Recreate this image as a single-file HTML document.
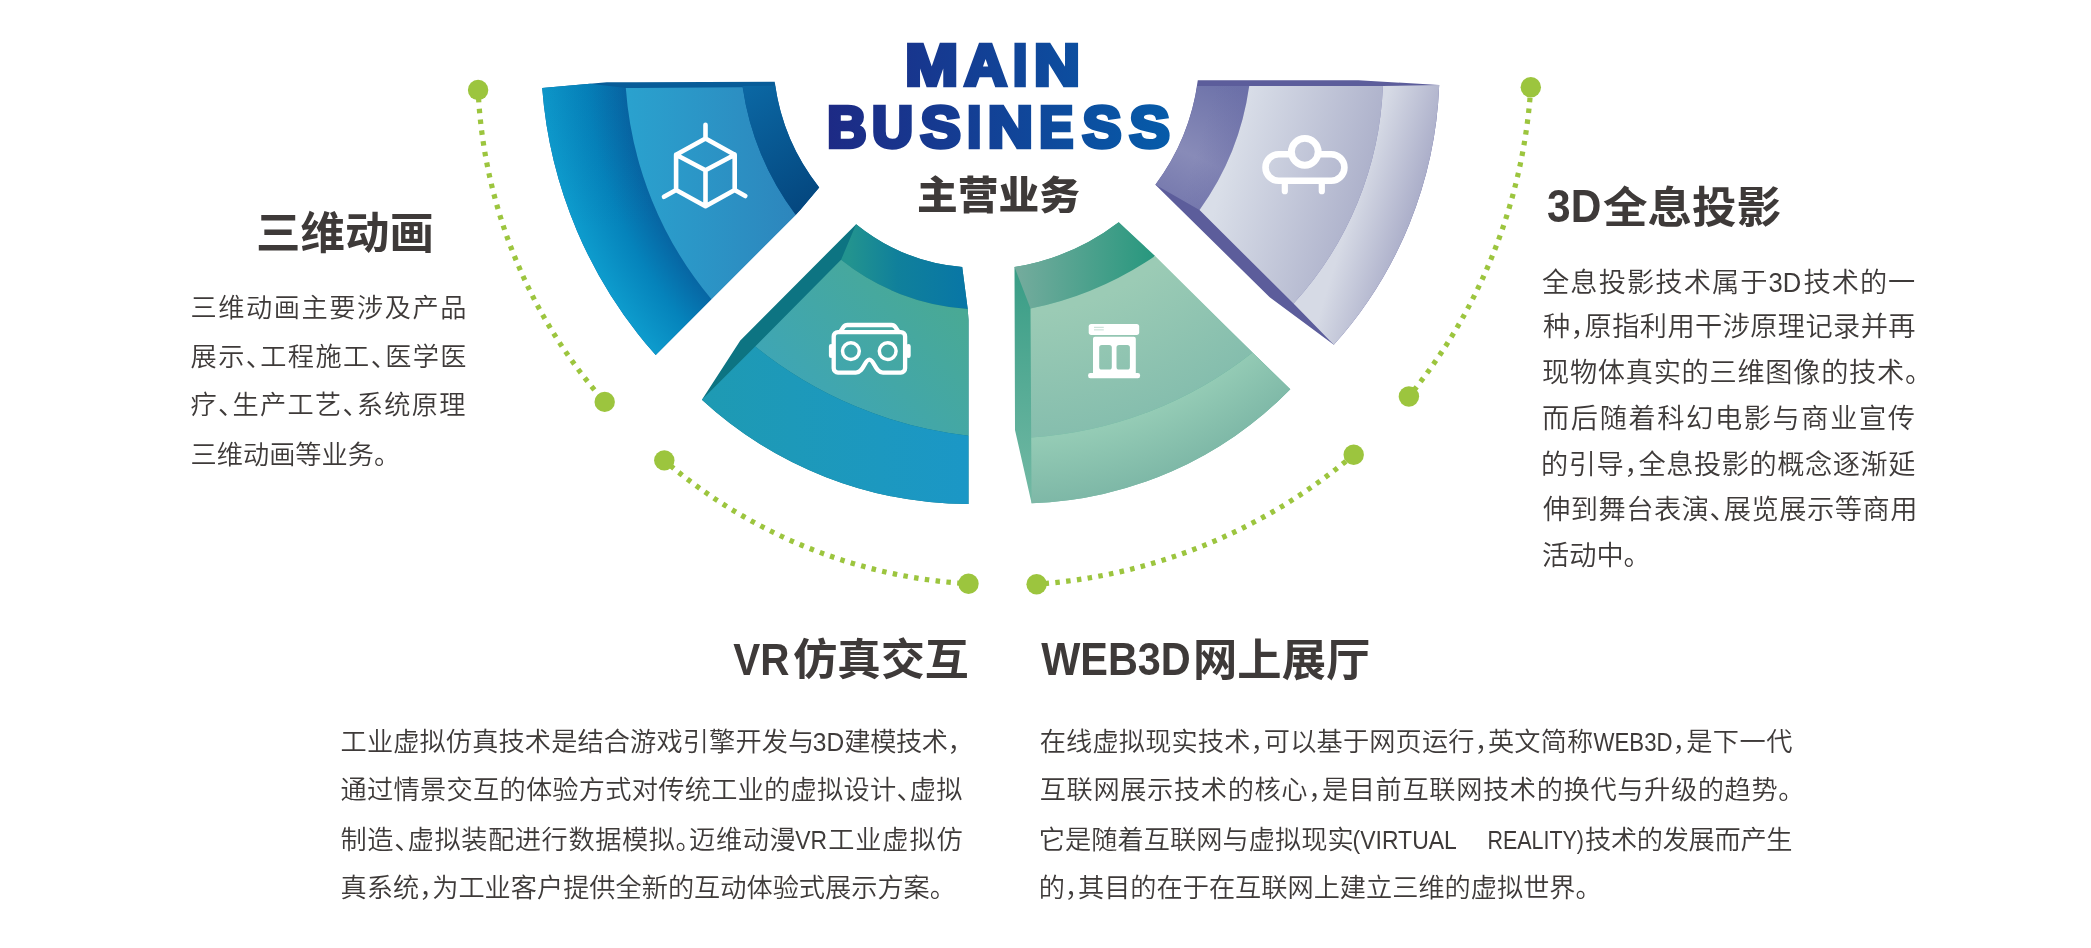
<!DOCTYPE html>
<html lang="zh-CN"><head><meta charset="utf-8"><title>主营业务 MAIN BUSINESS</title>
<style>
html,body{margin:0;padding:0;background:#fff;}
body{width:2091px;height:948px;overflow:hidden;font-family:"Liberation Sans","Noto Sans CJK SC",sans-serif;}
svg{display:block;will-change:transform;}
svg text{font-family:"Liberation Sans","Noto Sans CJK SC",sans-serif;font-feature-settings:"halt" 1;white-space:pre;}
</style></head><body>
<svg width="2091" height="948" viewBox="0 0 2091 948">
<defs>
<linearGradient id="gT" gradientUnits="userSpaceOnUse" x1="829" y1="0" x2="1169" y2="0"><stop offset="0" stop-color="#1d2a85"/><stop offset="1" stop-color="#065ba9"/></linearGradient>
<radialGradient id="g1L" gradientUnits="userSpaceOnUse" cx="994" cy="56" r="454"><stop offset="0.815" stop-color="#0764a2"/><stop offset="0.9" stop-color="#0583bb"/><stop offset="1" stop-color="#0e9dce"/></radialGradient>
<linearGradient id="g1Lo" gradientUnits="userSpaceOnUse" x1="0" y1="84" x2="0" y2="230"><stop offset="0" stop-color="#0a5d9b" stop-opacity="0.1"/><stop offset="1" stop-color="#0a5d9b" stop-opacity="0"/></linearGradient>
<linearGradient id="g1P" gradientUnits="userSpaceOnUse" x1="630" y1="150" x2="800" y2="150"><stop offset="0" stop-color="#2aa1ce"/><stop offset="1" stop-color="#2d85bc"/></linearGradient>
<linearGradient id="g1R" gradientUnits="userSpaceOnUse" x1="745" y1="90" x2="815" y2="200"><stop offset="0" stop-color="#0b67a3"/><stop offset="1" stop-color="#04477f"/></linearGradient>
<linearGradient id="g2I" gradientUnits="userSpaceOnUse" x1="850" y1="0" x2="968" y2="0"><stop offset="0" stop-color="#22938f"/><stop offset="0.4" stop-color="#10809b"/><stop offset="1" stop-color="#0876a6"/></linearGradient>
<linearGradient id="g2P" gradientUnits="userSpaceOnUse" x1="950" y1="300" x2="810" y2="440"><stop offset="0" stop-color="#49a995"/><stop offset="1" stop-color="#3da5b9"/></linearGradient>
<linearGradient id="g2O" gradientUnits="userSpaceOnUse" x1="705" y1="0" x2="968" y2="0"><stop offset="0" stop-color="#1e9ab3"/><stop offset="1" stop-color="#1b97c6"/></linearGradient>
<linearGradient id="g3S" gradientUnits="userSpaceOnUse" x1="0" y1="270" x2="0" y2="500"><stop offset="0" stop-color="#399d86"/><stop offset="1" stop-color="#72b9a4"/></linearGradient>
<linearGradient id="g3I" gradientUnits="userSpaceOnUse" x1="1020" y1="0" x2="1150" y2="0"><stop offset="0" stop-color="#72ab9c"/><stop offset="1" stop-color="#2a987f"/></linearGradient>
<radialGradient id="g3P" gradientUnits="userSpaceOnUse" cx="1013" cy="83" r="420"><stop offset="0.55" stop-color="#9bcbb5"/><stop offset="0.87" stop-color="#84bdad"/></radialGradient>
<radialGradient id="g3O" gradientUnits="userSpaceOnUse" cx="1013" cy="83" r="420"><stop offset="0.85" stop-color="#94cbb5"/><stop offset="1" stop-color="#7eb8a7"/></radialGradient>
<linearGradient id="g4I" gradientUnits="userSpaceOnUse" x1="1228" y1="84" x2="1172" y2="205"><stop offset="0" stop-color="#6d72a9"/><stop offset="0.6" stop-color="#888bb8"/><stop offset="1" stop-color="#7578ad"/></linearGradient>
<linearGradient id="g4Io" gradientUnits="userSpaceOnUse" x1="1200" y1="140" x2="1240" y2="152"><stop offset="0" stop-color="#6a6ca6" stop-opacity="0"/><stop offset="1" stop-color="#6a6ca6" stop-opacity="0.4"/></linearGradient>
<linearGradient id="g4P" gradientUnits="userSpaceOnUse" x1="1230" y1="150" x2="1380" y2="190"><stop offset="0" stop-color="#d9dee8"/><stop offset="1" stop-color="#a9adc8"/></linearGradient>
<linearGradient id="g4O" gradientUnits="userSpaceOnUse" x1="1370" y1="150" x2="1435" y2="170"><stop offset="0" stop-color="#d6dae5"/><stop offset="1" stop-color="#a6a9c6"/></linearGradient>
</defs>
<g id="wedges">
<path d="M542.2 88.1 L606.8 82.2 L774.7 81.8 A214.7 214.7 0 0 0 819.2 187.4 L800.2 210 L655.7 355.1 A453.6 453.6 0 0 1 542.2 88.1Z" fill="#085c98"/>
<path d="M542.2 88.1 L590 83.7 L625.8 88.1 A369.7 369.7 0 0 0 711.4 299.2 L655.7 355.1 A453.6 453.6 0 0 1 542.2 88.1Z" fill="url(#g1L)"/>
<path d="M542.2 88.1 L590 83.7 L625.8 88.1 A369.7 369.7 0 0 0 711.4 299.2 L655.7 355.1 A453.6 453.6 0 0 1 542.2 88.1Z" fill="url(#g1Lo)"/>
<path d="M625.8 88.1 L742.6 87.3 A281.9 281.9 0 0 0 795.8 215 L711.4 299.2 A369.7 369.7 0 0 1 625.8 88.1Z" fill="url(#g1P)"/>
<path d="M742.6 86 L775.2 85.7 A214.7 214.7 0 0 0 819.2 187.4 L800.2 210 L795.8 215 A281.9 281.9 0 0 1 742.6 86Z" fill="url(#g1R)"/>
<path d="M856.1 224.2 A195.8 195.8 0 0 0 962.2 267.1 L967.7 308.9 L968.5 320 L968.5 504 A394.5 394.5 0 0 1 701.9 399.8 L740.3 340.4 Z" fill="#0d7482"/>
<path d="M856.1 224.2 A195.8 195.8 0 0 0 962.2 267.1 L967.7 308.9 A224.6 224.6 0 0 1 841.1 259.8Z" fill="url(#g2I)"/>
<path d="M841.1 259.8 A224.6 224.6 0 0 0 967.7 308.9 L968.5 320 L968.5 435.7 A413 413 0 0 1 755.2 346.5Z" fill="url(#g2P)"/>
<path d="M968.5 435.7 L968.5 504 A394.5 394.5 0 0 1 701.9 399.8 L755.2 346.5 A413 413 0 0 0 968.5 435.7Z" fill="url(#g2O)"/>
<path d="M1014.5 267.1 A232.9 232.9 0 0 0 1118.7 222.3 L1290.3 389.3 A379.3 379.3 0 0 1 1031.6 503.2 L1015 430 Z" fill="url(#g3S)"/>
<path d="M1014.5 267.1 A232.9 232.9 0 0 0 1118.7 222.3 L1155.1 255.9 A340.8 340.8 0 0 1 1030.5 308.5Z" fill="url(#g3I)"/>
<path d="M1030.5 308.5 A340.8 340.8 0 0 0 1155.1 255.9 L1252.5 352.5 A395.5 395.5 0 0 1 1031.2 437.5Z" fill="url(#g3P)"/>
<path d="M1031.2 437.5 A395.5 395.5 0 0 0 1252.5 352.5 L1290.3 389.3 A379.3 379.3 0 0 1 1031.6 503.2Z" fill="url(#g3O)"/>
<path d="M1197.8 80.3 L1358.4 80.3 L1439.2 85 A411.8 411.8 0 0 1 1333.8 344.8 L1269.7 297.3 L1155.4 184.7 A222.8 222.8 0 0 0 1197.8 80.3Z" fill="#5c5d9b"/>
<path d="M1197.2 86.1 L1249.2 86.1 A276.7 276.7 0 0 1 1199.5 210 L1155.4 184.7 A222.8 222.8 0 0 0 1197.2 86.1Z" fill="url(#g4I)"/>
<path d="M1197.2 86.1 L1249.2 86.1 A276.7 276.7 0 0 1 1199.5 210 L1155.4 184.7 A222.8 222.8 0 0 0 1197.2 86.1Z" fill="url(#g4Io)"/>
<path d="M1249.2 86.1 L1382.9 86.1 A341.3 341.3 0 0 1 1293.5 303.6 L1199.5 210 A276.7 276.7 0 0 0 1249.2 86.1Z" fill="url(#g4P)"/>
<path d="M1382.9 86.1 L1439.2 85 A411.8 411.8 0 0 1 1333.8 344.8 L1293.5 303.6 A341.3 341.3 0 0 0 1382.9 86.1Z" fill="url(#g4O)"/>
<path d="M478.1 90 A505.6 505.6 0 0 0 604.7 401.9" fill="none" stroke="#9cc53e" stroke-width="5.2" stroke-dasharray="4.5 6.35" stroke-dashoffset="-8"/>
<circle cx="478.1" cy="90" r="10.2" fill="#9cc53e"/>
<circle cx="604.7" cy="401.9" r="10.2" fill="#9cc53e"/>
<path d="M664.3 460.4 A513.0 513.0 0 0 0 968.5 583.8" fill="none" stroke="#9cc53e" stroke-width="5.2" stroke-dasharray="4.5 6.35" stroke-dashoffset="-8"/>
<circle cx="664.3" cy="460.4" r="10.2" fill="#9cc53e"/>
<circle cx="968.5" cy="583.8" r="10.2" fill="#9cc53e"/>
<path d="M1036.6 584.2 A549.2 549.2 0 0 0 1353.7 454.7" fill="none" stroke="#9cc53e" stroke-width="5.2" stroke-dasharray="4.5 6.35" stroke-dashoffset="-8"/>
<circle cx="1036.6" cy="584.2" r="10.2" fill="#9cc53e"/>
<circle cx="1353.7" cy="454.7" r="10.2" fill="#9cc53e"/>
<path d="M1408.9 396.5 A542.7 542.7 0 0 0 1530.8 87.3" fill="none" stroke="#9cc53e" stroke-width="5.2" stroke-dasharray="4.5 6.35" stroke-dashoffset="-8"/>
<circle cx="1408.9" cy="396.5" r="10.2" fill="#9cc53e"/>
<circle cx="1530.8" cy="87.3" r="10.2" fill="#9cc53e"/>
</g>
<g id="icons">
<g fill="none" stroke="#fff" stroke-width="4.6" stroke-linecap="round" stroke-linejoin="round"><path d="M705.5 124.8V138.4 M705.5 138.4L734.7 154.7V190.1L705.5 206.3L676.1 190.1V154.7Z M676.1 154.7L705.5 170.3L734.7 154.7 M705.5 170.3V206.3 M676.1 190.1L664 196.8 M734.7 190.1L745.3 196"/></g>
<g fill="none" stroke="#fff" stroke-linecap="round" stroke-linejoin="round"><path stroke-width="4.3" d="M838 332.1H900.8a4.3 4.3 0 0 1 4.3 4.3V368.3a4.3 4.3 0 0 1 -4.3 4.3H883C875 372.6 874.4 359.6 869.4 359.6C864.4 359.6 863.8 372.6 855.8 372.6H838a4.3 4.3 0 0 1 -4.3 -4.3V336.4a4.3 4.3 0 0 1 4.3 -4.3Z"/><path stroke-width="4.3" d="M840.5 331.5L843.5 327Q844.8 325 847.5 325H891.5Q894 325 895.3 327L898.3 331.5"/><circle cx="850.9" cy="351.1" r="8.4" stroke-width="3.5"/><circle cx="887.7" cy="351.1" r="8.4" stroke-width="3.5"/><path stroke-width="4.6" d="M831.2 346.2V355.8 M908.4 346.2V355.8"/></g>
<g fill="#fff"><rect x="1088.7" y="323.9" width="50.5" height="11" rx="2.6"/><path fill-rule="evenodd" d="M1095 336.8H1133.8a2 2 0 0 1 2 2V373H1093V338.8a2 2 0 0 1 2 -2Z M1101.8 345h7.4a2.6 2.6 0 0 1 2.6 2.6v19.3a2.6 2.6 0 0 1 -2.6 2.6h-7.4a2.6 2.6 0 0 1 -2.6 -2.6v-19.3a2.6 2.6 0 0 1 2.6 -2.6Z M1119.1 345h8.2a2.6 2.6 0 0 1 2.6 2.6v19.3a2.6 2.6 0 0 1 -2.6 2.6h-8.2a2.6 2.6 0 0 1 -2.6 -2.6v-19.3a2.6 2.6 0 0 1 2.6 -2.6Z"/><rect x="1088.1" y="373" width="52" height="5.3" rx="2.2"/><rect x="1094" y="326.8" width="9.8" height="1.1" fill="#c9e2d8"/><rect x="1094" y="329.3" width="9.8" height="1.1" fill="#c9e2d8"/></g>
<mask id="mP" maskUnits="userSpaceOnUse" x="1250" y="120" width="120" height="90"><rect x="1250" y="120" width="120" height="90" fill="#fff"/><circle cx="1304.8" cy="151.8" r="13.4" fill="#000"/></mask><g fill="none" stroke="#fff" stroke-linecap="round"><rect x="1265.5" y="154.2" width="78.9" height="26.5" rx="13.25" stroke-width="6.6" mask="url(#mP)"/><circle cx="1304.8" cy="151.8" r="13.4" stroke-width="6.9"/><path stroke-width="6.2" d="M1284.8 184V191.2 M1321.8 184V191.2"/></g>
</g>
<g id="labels">
<g fill="url(#gT)" stroke="url(#gT)" stroke-width="4.4" stroke-linejoin="miter" stroke-miterlimit="2" font-weight="700" font-size="57.2"><text><tspan x="905.2" y="84.5" textLength="52.8" lengthAdjust="spacingAndGlyphs">M</tspan><tspan x="964.6" y="84.5" textLength="42.2" lengthAdjust="spacingAndGlyphs">A</tspan><tspan x="1012.9" y="84.5" textLength="14.3" lengthAdjust="spacingAndGlyphs">I</tspan><tspan x="1033.9" y="84.5" textLength="45.9" lengthAdjust="spacingAndGlyphs">N</tspan></text><text><tspan x="827.3" y="147.4" textLength="39.2" lengthAdjust="spacingAndGlyphs">B</tspan><tspan x="871.9" y="147.4" textLength="41.0" lengthAdjust="spacingAndGlyphs">U</tspan><tspan x="920.4" y="147.4" textLength="40.2" lengthAdjust="spacingAndGlyphs">S</tspan><tspan x="967.2" y="147.4" textLength="14.0" lengthAdjust="spacingAndGlyphs">I</tspan><tspan x="987.8" y="147.4" textLength="45.2" lengthAdjust="spacingAndGlyphs">N</tspan><tspan x="1039.2" y="147.4" textLength="34.0" lengthAdjust="spacingAndGlyphs">E</tspan><tspan x="1082.5" y="147.4" textLength="38.9" lengthAdjust="spacingAndGlyphs">S</tspan><tspan x="1129.4" y="147.4" textLength="40.2" lengthAdjust="spacingAndGlyphs">S</tspan></text></g>
<text font-weight="900" fill="#3e3a39"><tspan x="917.1" y="209.0" font-size="38.7" textLength="162.8" lengthAdjust="spacingAndGlyphs">主营业务</tspan></text>
<text font-weight="700" fill="#3e3a39"><tspan x="256.1" y="249.3" font-size="44.53" textLength="177.9" lengthAdjust="spacingAndGlyphs">三维动画</tspan></text>
<text font-weight="700" fill="#3e3a39"><tspan x="1547.1" y="222.0" font-size="46.76" textLength="54.3" lengthAdjust="spacingAndGlyphs">3D</tspan><tspan x="1603.0" y="222.6" font-size="42.88" textLength="178.2" lengthAdjust="spacingAndGlyphs">全息投影</tspan></text>
<text font-weight="700" fill="#3e3a39"><tspan x="733.3" y="674.6999999999999" font-size="45.29" textLength="56.2" lengthAdjust="spacingAndGlyphs">VR</tspan><tspan x="793.2" y="675.3" font-size="43.14" textLength="175.5" lengthAdjust="spacingAndGlyphs">仿真交互</tspan></text>
<text font-weight="700" fill="#3e3a39"><tspan x="1041.2" y="675.1999999999999" font-size="46.33" textLength="149.6" lengthAdjust="spacingAndGlyphs">WEB3D</tspan><tspan x="1193.1" y="675.8" font-size="44.34" textLength="177.1" lengthAdjust="spacingAndGlyphs">网上展厅</tspan></text>
<text font-size="26.2" font-weight="350" fill="#3e3a39"><tspan x="190.6" y="316.6" textLength="275.9" lengthAdjust="spacing">三维动画主要涉及产品</tspan></text>
<text font-size="26.2" font-weight="350" fill="#3e3a39"><tspan x="190.6" y="365.8" textLength="275.9" lengthAdjust="spacing">展示、工程施工、医学医</tspan></text>
<text font-size="26.2" font-weight="350" fill="#3e3a39"><tspan x="190.6" y="414.4" textLength="274.9" lengthAdjust="spacing">疗、生产工艺、系统原理</tspan></text>
<text font-size="26.2" font-weight="350" fill="#3e3a39"><tspan x="190.6" y="464.1">三维动画等业务。</tspan></text>
<text font-size="27.2" font-weight="350" fill="#3e3a39"><tspan x="1542.0" y="292.1" textLength="225.5" lengthAdjust="spacing">全息投影技术属于</tspan><tspan x="1768.5" y="292.1" textLength="32.7" lengthAdjust="spacingAndGlyphs">3D</tspan><tspan x="1803.5" y="292.1" textLength="111.8" lengthAdjust="spacing">技术的一</tspan></text>
<text font-size="27.2" font-weight="350" fill="#3e3a39"><tspan x="1543.0" y="336.2" textLength="372.5" lengthAdjust="spacing">种，原指利用干涉原理记录并再</tspan></text>
<text font-size="27.2" font-weight="350" fill="#3e3a39"><tspan x="1542.0" y="381.8" textLength="376.5" lengthAdjust="spacing">现物体真实的三维图像的技术。</tspan></text>
<text font-size="27.2" font-weight="350" fill="#3e3a39"><tspan x="1542.0" y="428.1" textLength="373.0" lengthAdjust="spacing">而后随着科幻电影与商业宣传</tspan></text>
<text font-size="27.2" font-weight="350" fill="#3e3a39"><tspan x="1541.0" y="474.2" textLength="374.5" lengthAdjust="spacing">的引导，全息投影的概念逐渐延</tspan></text>
<text font-size="27.2" font-weight="350" fill="#3e3a39"><tspan x="1543.0" y="519.2" textLength="374.5" lengthAdjust="spacing">伸到舞台表演、展览展示等商用</tspan></text>
<text font-size="27.2" font-weight="350" fill="#3e3a39"><tspan x="1542.0" y="565.1">活动中。</tspan></text>
<text font-size="26.2" font-weight="350" fill="#3e3a39"><tspan x="340.6" y="750.8" textLength="473.6" lengthAdjust="spacing">工业虚拟仿真技术是结合游戏引擎开发与</tspan><tspan x="812.8" y="750.8" textLength="31.4" lengthAdjust="spacingAndGlyphs">3D</tspan><tspan x="844.3" y="750.8" textLength="116.4" lengthAdjust="spacing">建模技术，</tspan></text>
<text font-size="26.2" font-weight="350" fill="#3e3a39"><tspan x="340.6" y="799.1" textLength="621.9" lengthAdjust="spacing">通过情景交互的体验方式对传统工业的虚拟设计、虚拟</tspan></text>
<text font-size="26.2" font-weight="350" fill="#3e3a39"><tspan x="340.6" y="848.7" textLength="455.0" lengthAdjust="spacing">制造、虚拟装配进行数据模拟。迈维动漫</tspan><tspan x="795.3" y="848.7" textLength="31.8" lengthAdjust="spacingAndGlyphs">VR</tspan><tspan x="828.2" y="848.7" textLength="134.5" lengthAdjust="spacing">工业虚拟仿</tspan></text>
<text font-size="26.2" font-weight="350" fill="#3e3a39"><tspan x="340.6" y="897.3">真系统，为工业客户提供全新的互动体验式展示方案。</tspan></text>
<text font-size="26.2" font-weight="350" fill="#3e3a39"><tspan x="1039.7" y="750.8" textLength="553.5" lengthAdjust="spacing">在线虚拟现实技术，可以基于网页运行，英文简称</tspan><tspan x="1593.6" y="750.8" textLength="79.0" lengthAdjust="spacingAndGlyphs">WEB3D</tspan><tspan x="1672.5" y="750.8" textLength="120.0" lengthAdjust="spacing">，是下一代</tspan></text>
<text font-size="26.2" font-weight="350" fill="#3e3a39"><tspan x="1039.7" y="799.1" textLength="751.7" lengthAdjust="spacing">互联网展示技术的核心，是目前互联网技术的换代与升级的趋势。</tspan></text>
<text font-size="26.2" font-weight="350" fill="#3e3a39"><tspan x="1038.7" y="848.7" textLength="315.0" lengthAdjust="spacing">它是随着互联网与虚拟现实</tspan><tspan x="1352.6" y="848.7" textLength="103.4" lengthAdjust="spacingAndGlyphs">(VIRTUAL</tspan> <tspan x="1487.4" y="848.7" textLength="96.6" lengthAdjust="spacingAndGlyphs">REALITY)</tspan><tspan x="1585.0" y="848.7" textLength="207.5" lengthAdjust="spacing">技术的发展而产生</tspan></text>
<text font-size="26.2" font-weight="350" fill="#3e3a39"><tspan x="1038.7" y="897.3">的，其目的在于在互联网上建立三维的虚拟世界。</tspan></text>
</g>
</svg>
</body></html>
